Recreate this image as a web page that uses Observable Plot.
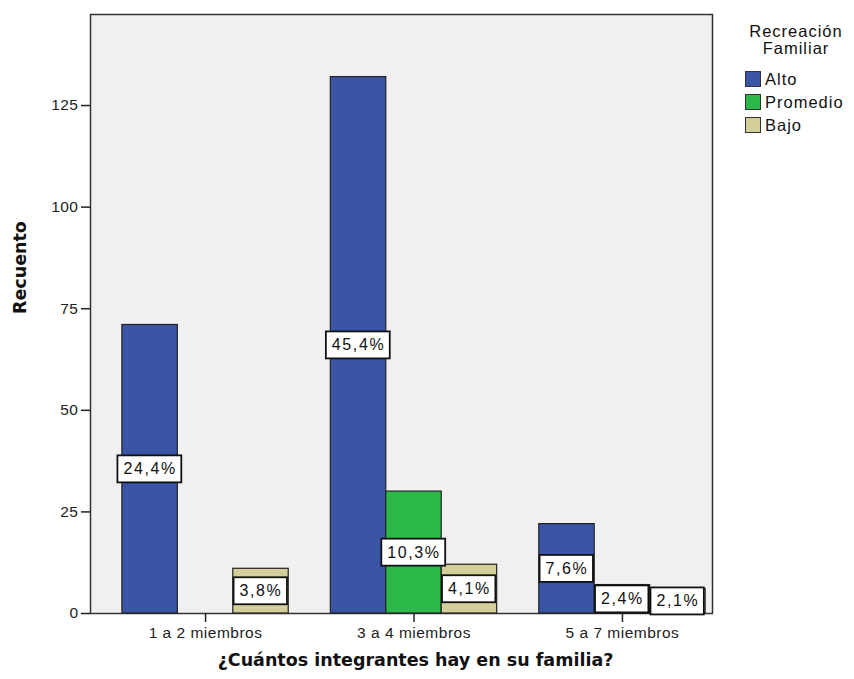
<!DOCTYPE html>
<html><head><meta charset="utf-8">
<script src="https://cdn.jsdelivr.net/npm/d3@7"></script>
<script src="https://cdn.jsdelivr.net/npm/@observablehq/plot@0.6"></script>
<style>
body{margin:0;background:#fff;}
#wrap{position:relative;width:854px;height:679px;overflow:hidden;}
#legend{position:absolute;left:0;top:0;font-family:"Liberation Sans",Arial,sans-serif;font-size:16.5px;color:#111;letter-spacing:1px;}
#legend .title{position:absolute;left:738px;width:116px;top:23px;text-align:center;line-height:17px;}
#legend .item{position:absolute;left:745px;height:17px;line-height:17px;white-space:nowrap;}
#legend .sw{display:inline-block;width:14px;height:14px;border:1.5px solid #333;vertical-align:top;margin-right:4px;}
</style></head><body><div id="wrap"><div id="legend"></div></div>
<script>
const categories = ["1 a 2 miembros", "3 a 4 miembros", "5 a 7 miembros"];
const series = ["Alto", "Promedio", "Bajo"];
const alto = [71, 132, 22];
const promedio = [0, 30, 7];
const bajo = [11, 12, 6];
const colors = ["#3b55a6", "#2db84a", "#d4cf98"];
const yTicks = [0, 25, 50, 75, 100, 125];
const xTitle = "¿Cuántos integrantes hay en su familia?";
const yTitle = "Recuento";
const legendTitle = ["Recreación", "Familiar"];

const counts = [alto, promedio, bajo];
const total = d3.sum(counts.flat());
const bw = 0.266;
const rows = [];
categories.forEach((c, ci) => {
  series.forEach((s, si) => {
    const v = counts[si][ci];
    if (v > 0) rows.push({
      cat: c, ser: s, value: v,
      x1: ci + (si - 1.5) * bw, x2: ci + (si - 0.5) * bw, xc: ci + (si - 1) * bw,
      pct: (v / total * 100).toFixed(1).replace(".", ",") + "%"
    });
  });
});

const plot = Plot.plot({
  width: 854, height: 679,
  marginLeft: 90, marginRight: 142, marginTop: 14, marginBottom: 66,
  style: {fontFamily: "'Liberation Sans', Arial, sans-serif", fontSize: "15.5px", color: "#222", background: "#fff", overflow: "visible", letterSpacing: "0.5px"},
  x: {type: "linear", domain: [-0.552, 2.432]},
  y: {domain: [0, 147.4]},
  color: {domain: series, range: colors},
  marks: [
    Plot.frame({fill: "#f0f0f0", stroke: "#333", strokeWidth: 1.5}),
    Plot.rectY(rows, {x1: "x1", x2: "x2", y1: 0, y2: "value", fill: d => d.ser, stroke: "#222", strokeWidth: 1.2}),
    Plot.axisY({ticks: yTicks, tickSize: 9, tickPadding: 3, label: null, stroke: "#222", strokeWidth: 1.5, fill: "#222"}),
    Plot.axisX({ticks: [0, 1, 2], tickFormat: i => categories[i], tickSize: 9, tickPadding: 4, label: null, stroke: "#222", strokeWidth: 1.5, fill: "#222"}),
    Plot.text(rows, {x: "xc", y: d => d.value / 2, text: "pct", fontSize: 16, fill: "#111"}),
    Plot.text([yTitle], {frameAnchor: "left", dx: -70, rotate: -90, fontWeight: "bold", fontSize: 17.5, fontFamily: "DejaVu Sans", fill: "#111"}),
    Plot.text([xTitle], {frameAnchor: "bottom", dx: 14, dy: 52, fontWeight: "bold", fontSize: 17.5, fontFamily: "DejaVu Sans", fill: "#111"})
  ]
});
const wrap = document.getElementById("wrap");
wrap.insertBefore(plot, wrap.firstChild);

// titles without extra letter spacing
d3.select(plot).selectAll("text").filter(function(){ return this.textContent === xTitle || this.textContent === yTitle; })
  .style("letter-spacing", "0px");

// white label boxes behind percentage texts
d3.select(plot).selectAll("text").filter(function(){ return /%$/.test(this.textContent); }).each(function(){
  this.style.letterSpacing = "1.6px";
  const b = this.getBBox();
  const padX = 6, padY = 5;
  const r = document.createElementNS("http://www.w3.org/2000/svg", "rect");
  r.setAttribute("x", b.x - padX);
  r.setAttribute("y", b.y - padY);
  r.setAttribute("width", b.width + 2 * padX - 1.5);
  r.setAttribute("height", b.height + 2 * padY);
  r.setAttribute("fill", "#fff");
  r.setAttribute("stroke", "#111");
  r.setAttribute("stroke-width", "1.8");
  const t = this.getAttribute("transform");
  if (t) r.setAttribute("transform", t);
  this.parentNode.insertBefore(r, this);
});

// legend
const lg = document.getElementById("legend");
const tt = document.createElement("div");
tt.className = "title";
tt.innerHTML = legendTitle.join("<br>");
lg.appendChild(tt);
series.forEach((s, i) => {
  const it = document.createElement("div");
  it.className = "item";
  it.style.top = (71 + i * 23) + "px";
  it.innerHTML = `<span class="sw" style="background:${colors[i]}"></span>${s}`;
  lg.appendChild(it);
});
</script>
</body></html>
